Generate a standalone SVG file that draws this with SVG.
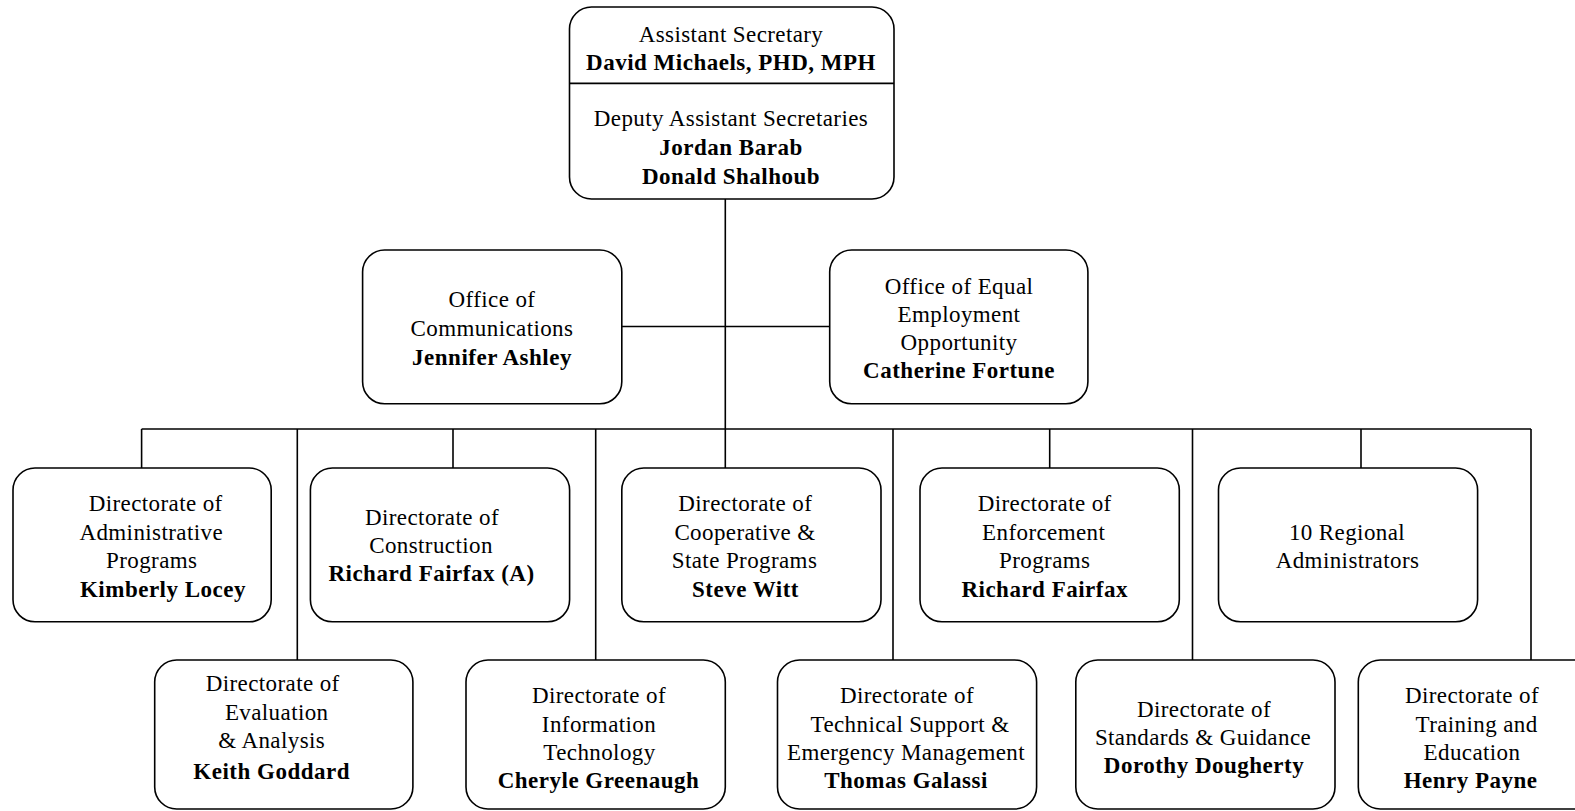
<svg xmlns="http://www.w3.org/2000/svg" width="1575" height="811" viewBox="0 0 1575 811">
<style>
.box{fill:#fff;stroke:#000;stroke-width:1.6}
.ln{stroke:#000;stroke-width:1.6;fill:none}
text{font-family:"Liberation Serif","Times New Roman",serif;font-size:23px;fill:#000;text-anchor:middle;letter-spacing:0.4px}
.b{font-weight:bold;letter-spacing:0.5px}
</style>
<rect width="1575" height="811" fill="#fff"/>
<g id="connectors">
<line class="ln" x1="725.3" y1="199" x2="725.3" y2="468"/>
<line class="ln" x1="621.8" y1="326.5" x2="829.7" y2="326.5"/>
<line class="ln" x1="141.6" y1="429" x2="1531" y2="429"/>
<line class="ln" x1="141.6" y1="429" x2="141.6" y2="468"/>
<line class="ln" x1="453" y1="429" x2="453" y2="468"/>
<line class="ln" x1="1049.7" y1="429" x2="1049.7" y2="468"/>
<line class="ln" x1="1361" y1="429" x2="1361" y2="468"/>
<line class="ln" x1="297.3" y1="429" x2="297.3" y2="660"/>
<line class="ln" x1="595.7" y1="429" x2="595.7" y2="660"/>
<line class="ln" x1="893" y1="429" x2="893" y2="660"/>
<line class="ln" x1="1192.5" y1="429" x2="1192.5" y2="660"/>
<line class="ln" x1="1531" y1="429" x2="1531" y2="660"/>
</g>
<g id="assistant-secretary">
<rect class="box" x="569.5" y="7" width="324.5" height="192" rx="22"/>
<line class="ln" x1="569.5" y1="83.4" x2="894" y2="83.4"/>
<text x="731" y="42">Assistant Secretary</text>
<text class="b" x="731" y="70">David Michaels, PHD, MPH</text>
<text x="731" y="126">Deputy Assistant Secretaries</text>
<text class="b" x="731" y="155">Jordan Barab</text>
<text class="b" x="731" y="184">Donald Shalhoub</text>
</g>
<g id="office-communications">
<rect class="box" x="362.6" y="250" width="259.2" height="153.8" rx="22"/>
<text x="492" y="307">Office of</text>
<text x="492" y="336">Communications</text>
<text class="b" x="492" y="365">Jennifer Ashley</text>
</g>
<g id="office-eeo">
<rect class="box" x="829.7" y="250" width="258.2" height="153.8" rx="22"/>
<text x="959" y="294">Office of Equal</text>
<text x="959" y="322">Employment</text>
<text x="959" y="350">Opportunity</text>
<text class="b" x="959" y="378">Catherine Fortune</text>
</g>
<g id="dir-admin">
<rect class="box" x="13" y="468" width="258.2" height="153.8" rx="22"/>
<text x="155.7" y="511">Directorate of</text>
<text x="151.2" y="540">Administrative</text>
<text x="151.7" y="568">Programs</text>
<text class="b" x="163" y="597">Kimberly Locey</text>
</g>
<g id="dir-construction">
<rect class="box" x="310.4" y="468" width="259.2" height="153.8" rx="22"/>
<text x="432" y="525">Directorate of</text>
<text x="431" y="553">Construction</text>
<text class="b" x="431.5" y="581">Richard Fairfax (A)</text>
</g>
<g id="dir-cooperative">
<rect class="box" x="621.8" y="468" width="259.2" height="153.8" rx="22"/>
<text x="745.3" y="511">Directorate of</text>
<text x="745" y="540">Cooperative &amp;</text>
<text x="744.5" y="568">State Programs</text>
<text class="b" x="745.5" y="597">Steve Witt</text>
</g>
<g id="dir-enforcement">
<rect class="box" x="920" y="468" width="259.3" height="153.8" rx="22"/>
<text x="1044.7" y="511">Directorate of</text>
<text x="1043.7" y="540">Enforcement</text>
<text x="1044.7" y="568">Programs</text>
<text class="b" x="1044.7" y="597">Richard Fairfax</text>
</g>
<g id="regional-admins">
<rect class="box" x="1218.5" y="468" width="259.1" height="153.8" rx="22"/>
<text x="1347" y="540">10 Regional</text>
<text x="1347.5" y="568">Administrators</text>
</g>
<g id="dir-evaluation">
<rect class="box" x="154.7" y="660" width="258.2" height="149" rx="22"/>
<text x="272.7" y="691">Directorate of</text>
<text x="276.7" y="720">Evaluation</text>
<text x="271.7" y="748">&amp; Analysis</text>
<text class="b" x="271.7" y="779">Keith Goddard</text>
</g>
<g id="dir-it">
<rect class="box" x="466" y="660" width="259.3" height="149" rx="22"/>
<text x="599" y="703">Directorate of</text>
<text x="599" y="732">Information</text>
<text x="599.5" y="760">Technology</text>
<text class="b" x="598.5" y="788">Cheryle Greenaugh</text>
</g>
<g id="dir-technical">
<rect class="box" x="777.5" y="660" width="259.1" height="149" rx="22"/>
<text x="907" y="703">Directorate of</text>
<text x="910" y="732">Technical Support &amp;</text>
<text x="906" y="760">Emergency Management</text>
<text class="b" x="906" y="788">Thomas Galassi</text>
</g>
<g id="dir-standards">
<rect class="box" x="1075.8" y="660" width="259.2" height="149" rx="22"/>
<text x="1204" y="717">Directorate of</text>
<text x="1203" y="745">Standards &amp; Guidance</text>
<text class="b" x="1204" y="773">Dorothy Dougherty</text>
</g>
<g id="dir-training">
<rect class="box" x="1358.3" y="660" width="259" height="149" rx="22"/>
<text x="1472" y="703">Directorate of</text>
<text x="1476.6" y="732">Training and</text>
<text x="1472" y="760">Education</text>
<text class="b" x="1470.6" y="788">Henry Payne</text>
</g>
</svg>
